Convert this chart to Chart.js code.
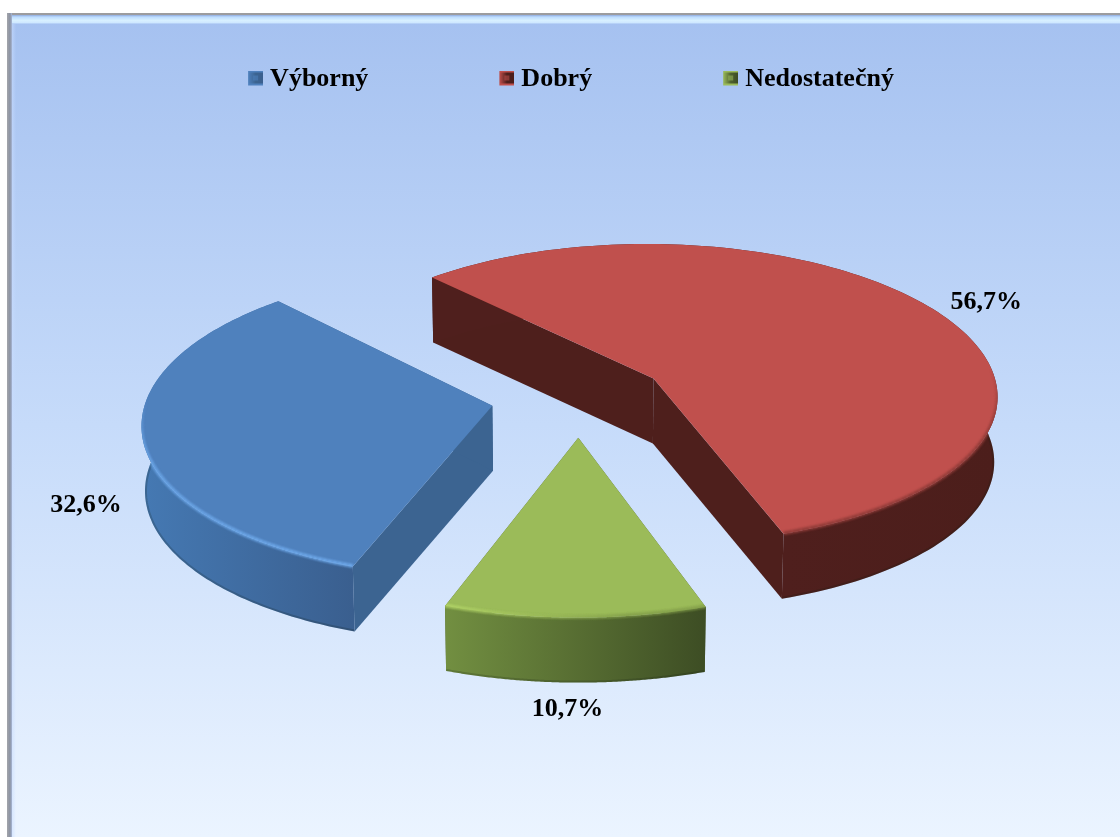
<!DOCTYPE html>
<html>
<head>
<meta charset="utf-8">
<script src="https://cdn.jsdelivr.net/npm/chart.js@4"></script>
<style>
html,body{margin:0;padding:0;background:#fff;width:1120px;height:837px;overflow:hidden}
#bg{position:absolute;left:7px;top:13px;width:1113px;height:824px;background:linear-gradient(180deg,#a5c1f0 0%,#c6dbfa 50%,#ebf4ff 100%)}
#t1{position:absolute;left:7px;top:13px;width:1113px;height:2px;background:#9c9c9f}
#t2{position:absolute;left:12px;top:15px;width:1108px;height:9px;background:linear-gradient(180deg,#8faade 0%,#bcdcff 22%,#d8f0ff 60%,#cfe8ff 85%,#a9c5f2 100%)}
#l1{position:absolute;left:7px;top:13px;width:5px;height:824px;background:linear-gradient(90deg,#a3a5aa 0%,#8c93a3 60%,#a7b7d6 100%)}
#l2{position:absolute;left:12px;top:24px;width:4px;height:813px;background:linear-gradient(90deg,rgba(200,220,255,.55),rgba(200,220,255,0))}
canvas{position:absolute;left:0;top:0}
</style>
</head>
<body>
<div id="bg"></div><div id="t2"></div><div id="t1"></div><div id="l1"></div><div id="l2"></div>
<canvas id="c" width="1120" height="837"></canvas>
<script>
const categories = ['Výborný', 'Dobrý', 'Nedostatečný'];
const shareValues = [32.6, 56.7, 10.7];
const topColors = ['#4F81BD', '#C0504D', '#9BBB59'];
const wallColors = ['#3C6491', '#4E1F1C', '#4F6130'];
const sideStart = ['#4579B3', '#4F1F1D', '#728F41'];
const sideEnd = ['#3A5F8F', '#4C1E1B', '#3D4D24'];
const rimColors = ['#6FAAEC', '#8F3B38', '#B9DC6C'];
const rimFade = ['#6FAAEC', '#8F3B38', '#7F9A48'];
const labelRadial = [1.157, 1.225, 1.13];
const labelOnSide = [0.96, 0.18, 1];
const labelTurn = [0, 0, 0.013];

const view = {cx: 579, cy: 398, tilt: 0.44, persp: 0.104, depth: 65, base: 0.992};
const font = {family: '"Liberation Serif", serif', size: 26, weight: 'bold'};

function project(X, Y, R) {
  const s = 1 / (1 - view.persp * Y / R);
  return {x: view.cx + X * s, y: view.cy + view.tilt * Y * s};
}
function arcPoints(arc, explode, radius) {
  const pts = [], n = 140;
  const mid = (arc.startAngle + arc.endAngle) / 2;
  const ox = Math.cos(mid) * explode, oy = Math.sin(mid) * explode;
  for (let i = 0; i <= n; i++) {
    const a = arc.startAngle + (arc.endAngle - arc.startAngle) * i / n;
    const p = project(ox + Math.cos(a) * radius, oy + Math.sin(a) * radius, radius);
    p.a = a;
    pts.push(p);
  }
  return {pts, tip: project(ox, oy, radius)};
}
function trace(ctx, pts, close) {
  pts.forEach((p, i) => i ? ctx.lineTo(p.x, p.y) : ctx.moveTo(p.x, p.y));
  if (close) ctx.closePath();
}
function poly(ctx, pts, color) {
  ctx.beginPath();
  trace(ctx, pts, true);
  ctx.fillStyle = color;
  ctx.fill();
}
const down = p => ({x: view.cx + (p.x - view.cx) * view.base, y: p.y + view.depth});

const pie3d = {
  id: 'pie3d',
  beforeDatasetDraw(chart, args) {
    const ctx = chart.ctx;
    chart.getDatasetMeta(args.index).data.forEach((arc, i) => {
      const g = arcPoints(arc, arc.options.offset, arc.outerRadius);
      const pts = g.pts, first = pts[0], last = pts[pts.length - 1];
      ctx.save();
      // inner faces
      poly(ctx, [g.tip, first, down(first), down(g.tip)], wallColors[i]);
      poly(ctx, [g.tip, last, down(last), down(g.tip)], wallColors[i]);
      // outer rim face, shaded across its visible width
      const near = pts.filter(p => Math.sin(p.a) > -0.12);
      let minX = Infinity, maxX = -Infinity;
      near.forEach(p => { minX = Math.min(minX, p.x); maxX = Math.max(maxX, p.x); });
      const side = ctx.createLinearGradient(minX, 0, maxX, 0);
      side.addColorStop(0, sideStart[i]);
      side.addColorStop(1, sideEnd[i]);
      const sidePts = pts.concat(pts.map(down).reverse());
      poly(ctx, sidePts, side);
      // darker lower edge of the rim face
      ctx.save();
      ctx.beginPath();
      trace(ctx, sidePts, true);
      ctx.clip();
      ctx.strokeStyle = 'rgba(20,30,20,0.2)';
      ctx.lineWidth = 4;
      ctx.beginPath();
      trace(ctx, near.map(down), false);
      ctx.stroke();
      ctx.restore();
      // top face
      poly(ctx, [g.tip].concat(pts), topColors[i]);
      // soft bevel on the near edge, kept inside the solid
      ctx.save();
      ctx.beginPath();
      trace(ctx, [g.tip].concat(pts), true);
      trace(ctx, sidePts, true);
      ctx.clip();
      ctx.filter = 'blur(1.2px)';
      const rim = ctx.createLinearGradient(minX, 0, maxX, 0);
      rim.addColorStop(0, rimColors[i]);
      rim.addColorStop(0.7, rimFade[i]);
      rim.addColorStop(1, rimFade[i]);
      ctx.strokeStyle = rim;
      ctx.lineWidth = 3.5;
      for (let k = 1; k < near.length; k++) {
        ctx.globalAlpha = Math.min(1, Math.max(0, (Math.sin(near[k].a) + 0.05) / 0.35));
        ctx.beginPath();
        ctx.moveTo(near[k - 1].x, near[k - 1].y - 0.5);
        ctx.lineTo(near[k].x, near[k].y - 0.5);
        ctx.stroke();
      }
      ctx.restore();
      ctx.restore();
    });
    return false;
  },
  afterDatasetsDraw(chart) {
    const ctx = chart.ctx;
    ctx.save();
    ctx.font = `${font.weight} ${font.size}px ${font.family}`;
    ctx.fillStyle = '#000';
    ctx.textAlign = 'center';
    ctx.textBaseline = 'middle';
    chart.getDatasetMeta(0).data.forEach((arc, i) => {
      const mid = (arc.startAngle + arc.endAngle) / 2 + labelTurn[i];
      const R = arc.outerRadius, d = arc.options.offset, r = labelRadial[i] * R;
      const p = project(Math.cos(mid) * (d + r), Math.sin(mid) * (d + r), R);
      const text = shareValues[i].toFixed(1).replace('.', ',') + '%';
      ctx.fillText(text, p.x, p.y + labelOnSide[i] * view.depth);
    });
    ctx.restore();
  }
};

function marker(i) {
  const c = document.createElement('canvas');
  c.width = 21; c.height = 17;
  const m = c.getContext('2d');
  const x0 = 6, w = 15, h = 15;
  const g = m.createLinearGradient(x0, 0, x0 + w, 0);
  g.addColorStop(0, topColors[i]);
  g.addColorStop(0.5, wallColors[i]);
  g.addColorStop(1, sideEnd[i]);
  m.fillStyle = g;
  m.fillRect(x0, 0, w, h);
  m.fillStyle = topColors[i];
  m.fillRect(x0, 0, w, 2);
  m.fillRect(x0, h - 2, w, 2);
  m.globalAlpha = 0.55;
  m.fillRect(x0 + 5, 5, 5, 5);
  return c;
}

new Chart(document.getElementById('c'), {
  type: 'pie',
  data: {
    labels: categories,
    datasets: [{
      data: shareValues,
      backgroundColor: topColors,
      borderWidth: 0,
      offset: 88,
      radius: 346
    }]
  },
  options: {
    responsive: false,
    animation: false,
    rotation: 199.7,
    layout: {padding: {top: -65, left: 22}},
    plugins: {
      tooltip: {enabled: false},
      legend: {
        position: 'top',
        labels: {
          padding: 131,
          usePointStyle: true,
          pointStyleWidth: 9,
          color: '#000',
          font: font,
          generateLabels(chart) {
            const base = Chart.overrides.doughnut.plugins.legend.labels.generateLabels(chart);
            base.forEach((l, i) => { l.pointStyle = marker(i); l.lineWidth = 0; });
            return base;
          }
        }
      }
    }
  },
  plugins: [pie3d]
});
</script>
</body>
</html>
